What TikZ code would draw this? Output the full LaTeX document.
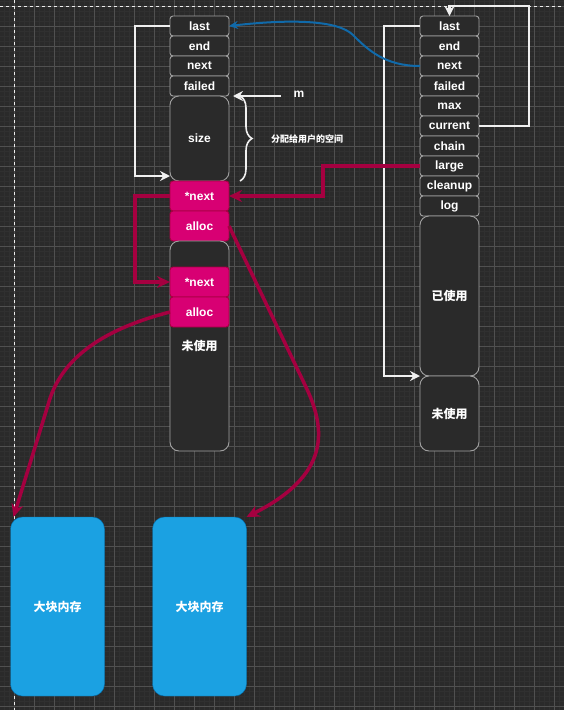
\documentclass[tikz,border=0pt]{standalone}
\usepackage{fontspec}
\setmainfont{Liberation Sans}
\newfontfamily\cjk{Noto Sans CJK SC}
\usetikzlibrary{arrows.meta, positioning, calc, decorations.pathreplacing}
\definecolor{canvasbg}{RGB}{42,42,42}
\definecolor{gridminor}{RGB}{48,48,48}
\definecolor{gridmajor}{RGB}{80,80,80}
\definecolor{cellgray}{RGB}{160,160,160}
\definecolor{pinkfill}{RGB}{216,0,115}
\definecolor{pinkline}{RGB}{165,0,64}
\definecolor{blockblue}{RGB}{27,161,226}
\definecolor{blockline}{RGB}{0,110,175}
\definecolor{linkblue}{RGB}{16,106,170}
\definecolor{ptrwhite}{RGB}{240,240,240}
\tikzset{
  cell/.style={draw=cellgray, line width=0.9pt, fill=canvasbg, rounded corners=3pt, minimum width=59pt, minimum height=20pt,
               inner sep=0pt, outer sep=0pt, text=white, font=\fontsize{12}{14}\selectfont\bfseries},
  bigcell/.style={cell, rounded corners=9pt},
  pinkcell/.style={cell, draw=pinkline, fill=pinkfill, minimum height=30pt},
  memblock/.style={draw=blockline, fill=blockblue, rounded corners=12pt, minimum width=94pt, minimum height=179pt,
                   outer sep=0pt, text=white, font=\cjk\fontsize{12}{14}\selectfont\bfseries},
  cjktext/.style={text=white, font=\cjk\fontsize{12}{14}\selectfont\bfseries},
  white-ptr/.style={draw=ptrwhite, line width=2.2pt, -{Stealth[length=10pt,width=10pt]}},
  red-ptr/.style={draw=pinkline, line width=3.5pt, -{Stealth[length=13pt,width=12pt]}},
  blue-ptr/.style={draw=linkblue, line width=2pt, -{Stealth[length=9pt,width=8pt]}},
}

\begin{document}
\begin{tikzpicture}[x=1pt, y=-1pt]
\useasboundingbox (0,0) rectangle (564,710);
% canvas and grid
\fill[canvasbg] (0,0) rectangle (564,710);
\foreach \gx in {4,9,...,564} \draw[gridminor, line width=0.6pt] (\gx,0) -- (\gx,710);
\foreach \gy in {1,6,...,710} \draw[gridminor, line width=0.6pt] (0,\gy) -- (564,\gy);
\foreach \gx in {14,34,...,554} \draw[gridmajor, line width=0.8pt] (\gx,0) -- (\gx,710);
\foreach \gy in {6,26,...,706} \draw[gridmajor, line width=0.8pt] (0,\gy) -- (564,\gy);
\draw[white!85!gray, line width=0.9pt, dash pattern=on 3pt off 3pt] (14,0) -- (14,710);
\draw[white!85!gray, line width=0.9pt, dash pattern=on 3pt off 3pt] (0,6) -- (564,6);

% pool with large list
\node[cell] (llast) at (199.5,26) {last};
\node[cell, below=0pt of llast] (lend) {end};
\node[cell, below=0pt of lend] (lnext) {next};
\node[cell, below=0pt of lnext] (lfailed) {failed};
\node[bigcell, below=0pt of lfailed, minimum height=85pt] (lsize) {size};
\node[pinkcell, below=0pt of lsize] (lnextp) {*next};
\node[pinkcell, below=0pt of lnextp] (lalloc) {alloc};
\node[bigcell, below=0pt of lalloc, minimum height=210pt] (lrest) {};
\node[pinkcell, below=26pt of lalloc] (lnextq) {*next};
\node[pinkcell, below=0pt of lnextq] (lallocq) {alloc};
\node[cjktext, below=10pt of lallocq] (lunused) {未使用};

% head pool
\node[cell] (rlast) at (449.5,26) {last};
\node[cell, below=0pt of rlast] (rend) {end};
\node[cell, below=0pt of rend] (rnext) {next};
\node[cell, below=0pt of rnext] (rfailed) {failed};
\node[cell, below=0pt of rfailed] (rmax) {max};
\node[cell, below=0pt of rmax] (rcurrent) {current};
\node[cell, below=0pt of rcurrent] (rchain) {chain};
\node[cell, below=0pt of rchain] (rlarge) {large};
\node[cell, below=0pt of rlarge] (rcleanup) {cleanup};
\node[cell, below=0pt of rcleanup] (rlog) {log};
\node[bigcell, below=0pt of rlog, minimum height=160pt] (rused) {\cjk 已使用};
\node[bigcell, below=0pt of rused, minimum height=75pt] (runused) {\cjk 未使用};

% large memory blocks
\node[memblock, below=66pt of lrest] (blktwo) {大块内存};
\node[memblock, left=48pt of blktwo] (blkone) {大块内存};

% labels
\node[text=white, font=\fontsize{12}{14}\selectfont\bfseries] (mlabel) at (299,94) {m};
\node[cjktext, font=\cjk\fontsize{9}{11}\selectfont\bfseries] (spacelabel) at (307,139) {分配给用户的空间};
\draw[draw=ptrwhite, line width=1.6pt, decorate, decoration={brace, amplitude=12pt}]
  ([xshift=11pt]lsize.north east) -- ([xshift=11pt]lsize.south east);

% white pointers
\draw[white-ptr] (llast.west) -- ++(-35,0) |- ([yshift=5pt]lsize.south west);
\draw[white-ptr, shorten <=9pt, shorten >=4pt] (mlabel.west |- lsize.north east) -- (lsize.north east);
\draw[white-ptr] (rlast.west) -- ++(-36,0) |- (runused.north west);
\draw[white-ptr] (rcurrent.east) -- ++(50,0) |- ([yshift=10pt]rlast.north) -- (rlast.north);

% blue link
\draw[blue-ptr] (rnext.west) .. controls (385,66) and (368,50) .. (353,35)
  .. controls (338,20) and (290,19) .. (llast.east);

% large chain
\draw[red-ptr] (rlarge.west) -- ++(-97,0) |- (lnextp.east);
\draw[red-ptr] (lnextp.west) -- ++(-35,0) |- (lnextq.west);
\draw[red-ptr] (lalloc.east) -- (305,385) .. controls (327,430) and (330,475) .. (blktwo.north east);
\draw[red-ptr] (lallocq.west) .. controls (100,330) and (60,360) .. (48,405) -- ([xshift=3pt]blkone.north west);
\end{tikzpicture}
\end{document}
